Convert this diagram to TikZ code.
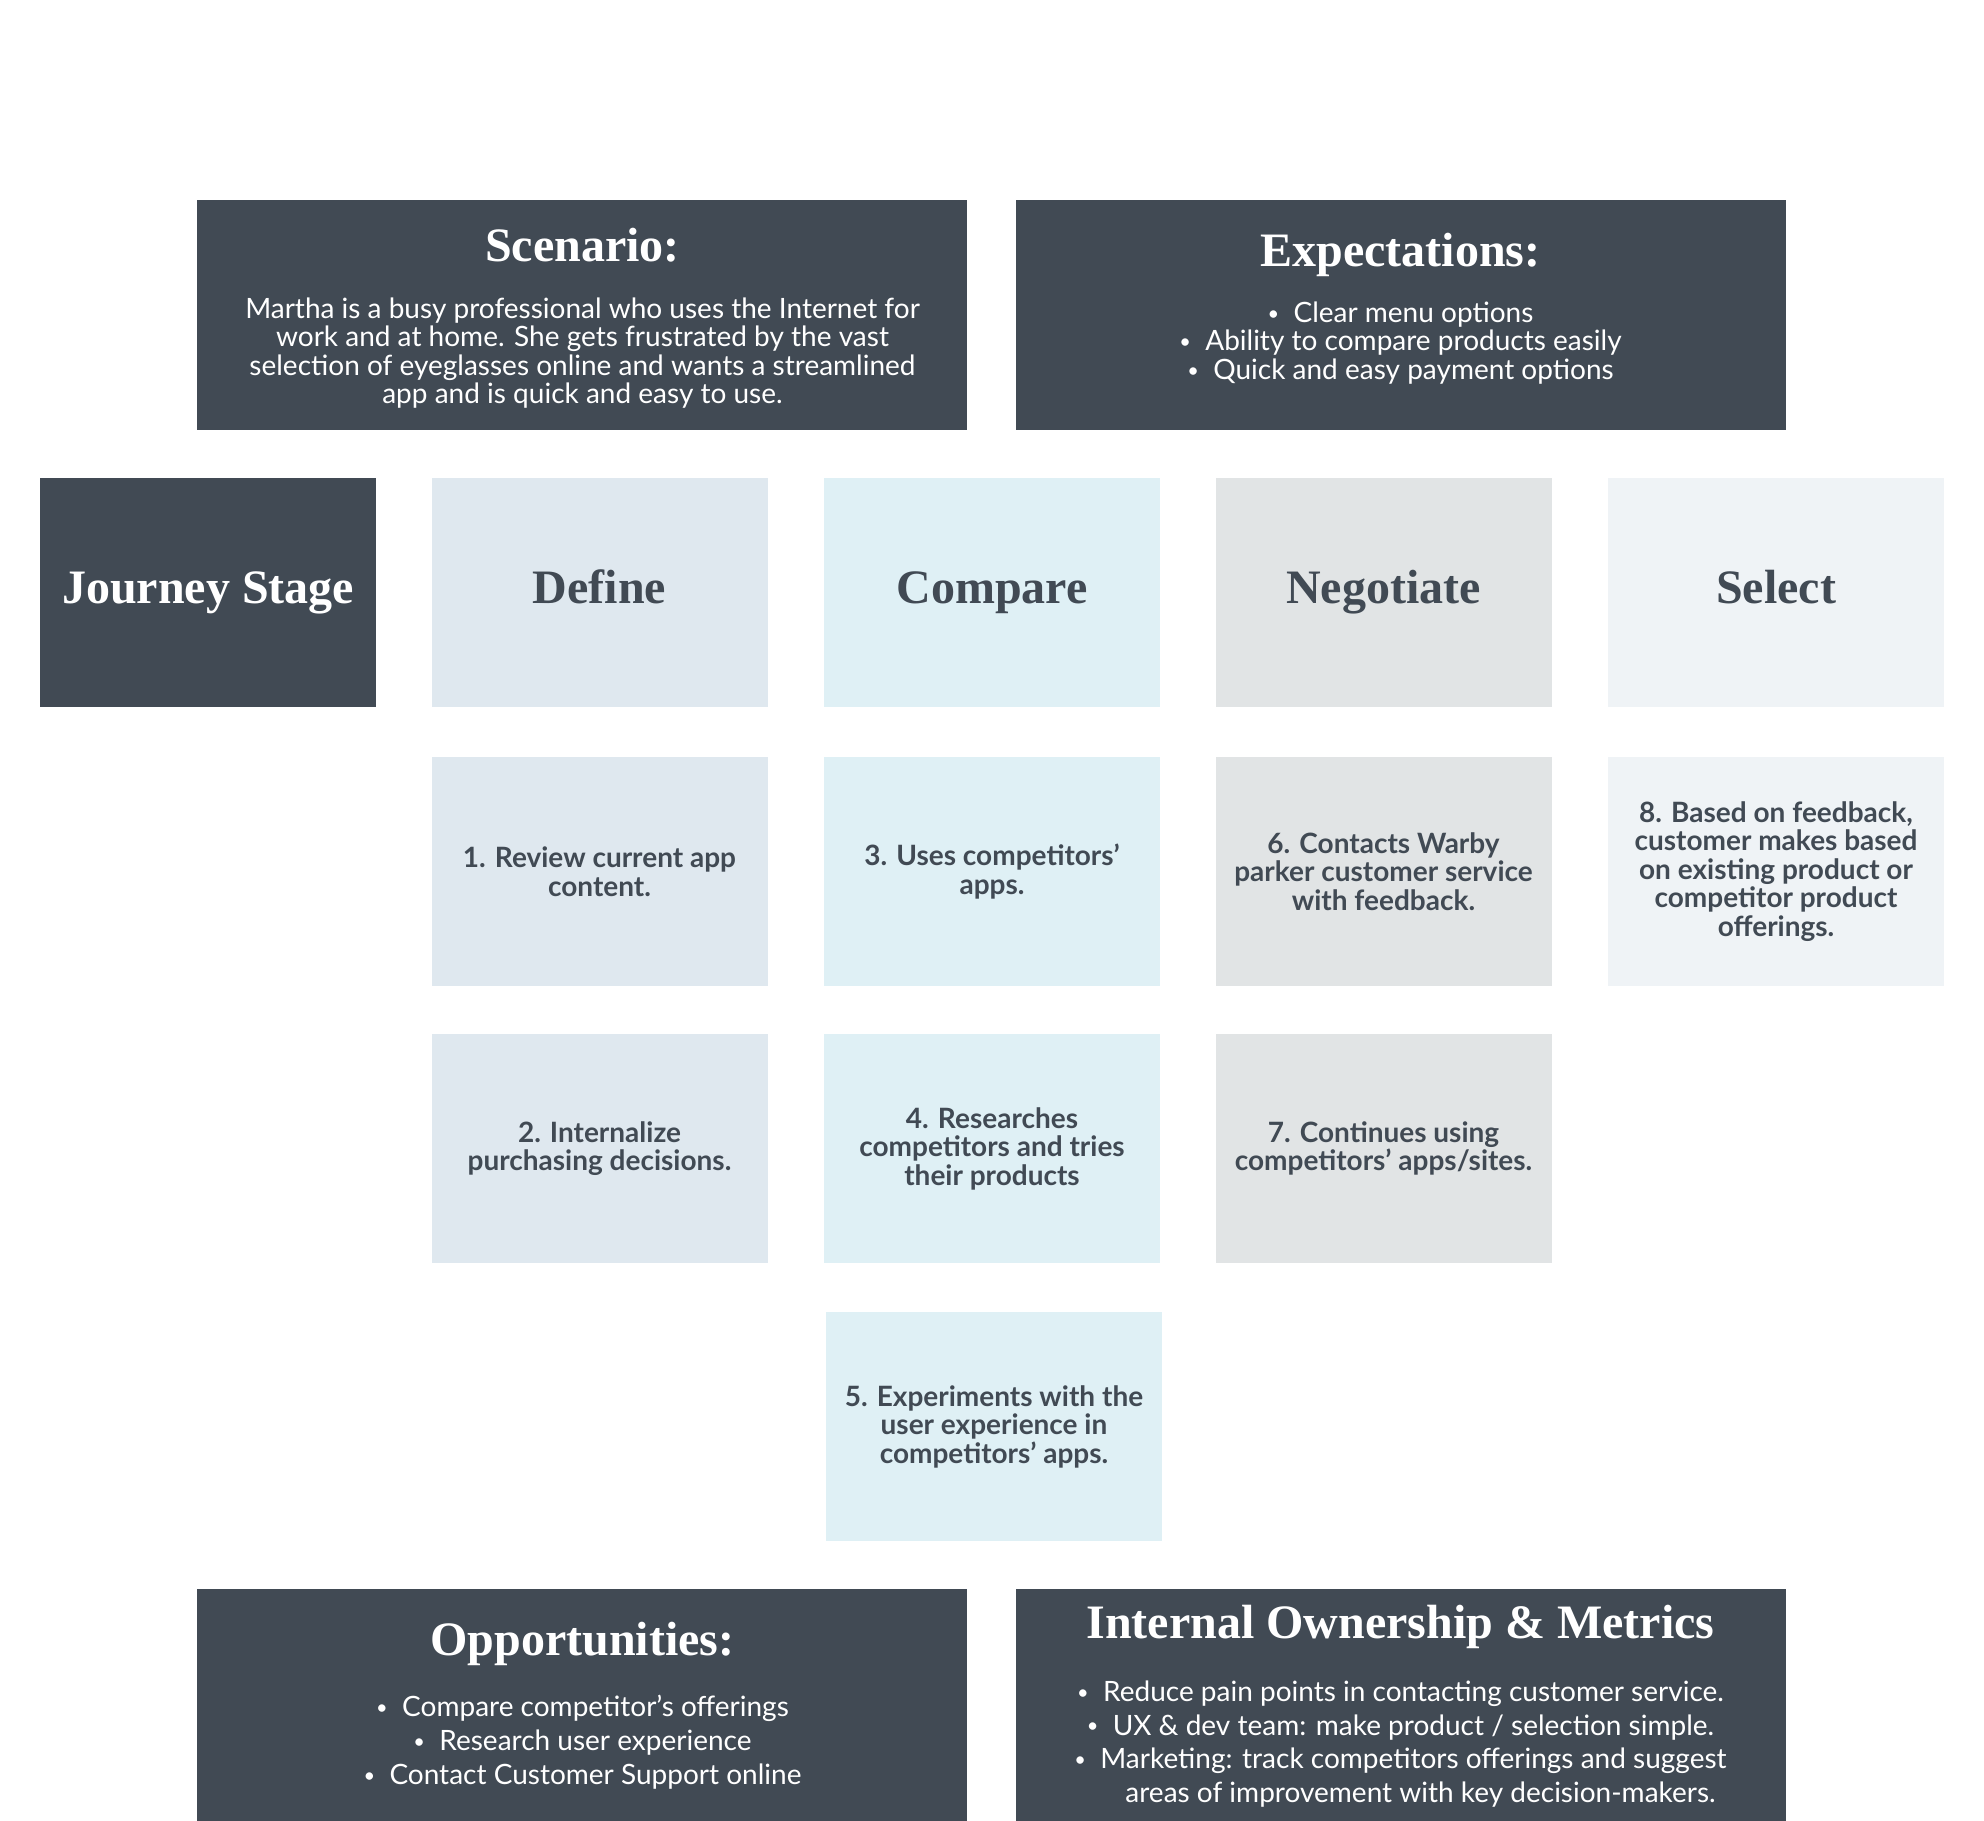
\documentclass[tikz,border=0pt]{standalone}
\usepackage{fontspec}
\setmainfont{Liberation Serif}
\newfontfamily\bodyf{Lato}
\definecolor{slate}{HTML}{414A54}
\definecolor{cdef}{HTML}{DFE8EF}
\definecolor{ccmp}{HTML}{DFF0F5}
\definecolor{cneg}{HTML}{E1E4E5}
\definecolor{csel}{HTML}{EFF3F6}
\newcommand{\bul}{\raisebox{0.15ex}{\fontsize{10}{10}\selectfont •}\ \ }
\begin{document}
\begin{tikzpicture}[x=0.5pt,y=-0.5pt,
  panel/.style={fill=slate, draw=none, inner sep=0pt, outer sep=0pt, minimum width=385pt, minimum height=115pt},
  cell/.style={draw=none, inner sep=0pt, outer sep=0pt, minimum width=168pt, minimum height=114.5pt, align=center, text=slate},
  stagefont/.style={font=\bfseries\fontsize{24}{28}\selectfont, text height=16.4pt, text depth=5.3pt},
  stepfont/.style={font=\bodyf\bfseries\fontsize{14}{14.25}\selectfont},
  headtext/.style={text=white, font=\bfseries\fontsize{24}{28}\selectfont, inner sep=0pt},
  bodytext/.style={text=white, align=center, inner sep=0pt},
  titletext/.style={text=white, font=\bodyf\fontsize{23}{26}\selectfont, inner sep=0pt, anchor=base west}]
\fill[white] (0,0) rectangle (1984,1820);
\useasboundingbox (0,0) rectangle (1984,1820);
% title (white on white in the reference)
\node[titletext] (t1) at (5,38) {Customer Journey Map (Goal: customer experience) with the design of Warby Parker App.};
\node[titletext] (t2) at (5,99) {Objective: To measure customer satisfaction in the improved user experience.};
% top panels
\node[panel, anchor=north west] (scen) at (197,200) {};
\node[panel, anchor=north west] (expc) at (1016,200) {};
\node[headtext, anchor=base] (scenh) at (582.5,261) {Scenario:};
\node[headtext, anchor=base] (expch) at (1400.5,266) {Expectations:};
\node[bodytext, font=\bodyf\fontsize{14}{14.2}\selectfont] (scenb) at (582.5,353)
  {Martha is a busy professional who uses the Internet for\\work and at home. She gets frustrated by the vast\\selection of eyeglasses online and wants a streamlined\\app and is quick and easy to use.};
\node[bodytext, font=\bodyf\fontsize{14}{14.2}\selectfont] (expcb) at (1400.5,343)
  {\bul Clear menu options\\\bul Ability to compare products easily\\\bul Quick and easy payment options};
% stage row
\node[cell, fill=slate, text=white, stagefont] (js) at (208,592.5) {Journey Stage};
\node[cell, fill=cdef, stagefont] (def) at (599.5,592.5) {Define};
\node[cell, fill=ccmp, stagefont] (cmp) at (992,592.5) {Compare};
\node[cell, fill=cneg, stagefont] (neg) at (1383.5,592.5) {Negotiate};
\node[cell, fill=csel, stagefont] (sel) at (1776,592.5) {Select};
% steps
\node[cell, fill=cdef, stepfont] (s1) at (599.5,871.5) {1. Review current app\\content.};
\node[cell, fill=cdef, stepfont] (s2) at (599.5,1148.5) {2. Internalize\\purchasing decisions.};
\node[cell, fill=ccmp, stepfont] (s3) at (992,871.5) {3. Uses competitors’\\apps.};
\node[cell, fill=ccmp, stepfont] (s4) at (992,1148.5) {4. Researches\\competitors and tries\\their products};
\node[cell, fill=ccmp, stepfont] (s5) at (994,1426.5) {5. Experiments with the\\user experience in\\competitors’ apps.};
\node[cell, fill=cneg, stepfont] (s6) at (1383.5,871.5) {6. Contacts Warby\\parker customer service\\with feedback.};
\node[cell, fill=cneg, stepfont] (s7) at (1383.5,1148.5) {7. Continues using\\competitors’ apps/sites.};
\node[cell, fill=csel, stepfont] (s8) at (1776,871.5) {8. Based on feedback,\\customer makes based\\on existing product or\\competitor product\\offerings.};
% bottom panels
\node[panel, anchor=north west, minimum height=116pt] (opp) at (197,1589) {};
\node[panel, anchor=north west, minimum height=116pt] (own) at (1016,1589) {};
\node[headtext, anchor=base] (opph) at (582.5,1655) {Opportunities:};
\node[headtext, anchor=base] (ownh) at (1400.5,1638) {Internal Ownership \& Metrics};
\node[bodytext, font=\bodyf\fontsize{14}{17}\selectfont] (oppb) at (582.5,1742)
  {\bul Compare competitor’s offerings\\\bul Research user experience\\\bul Contact Customer Support online};
\node[bodytext, font=\bodyf\fontsize{14}{16.9}\selectfont] (ownb) at (1400.5,1744)
  {\bul Reduce pain points in contacting customer service.\\\bul UX \& dev team: make product / selection simple.\\\bul Marketing: track competitors offerings and suggest\\\hspace*{20pt}areas of improvement with key decision-makers.};
\end{tikzpicture}
\end{document}
